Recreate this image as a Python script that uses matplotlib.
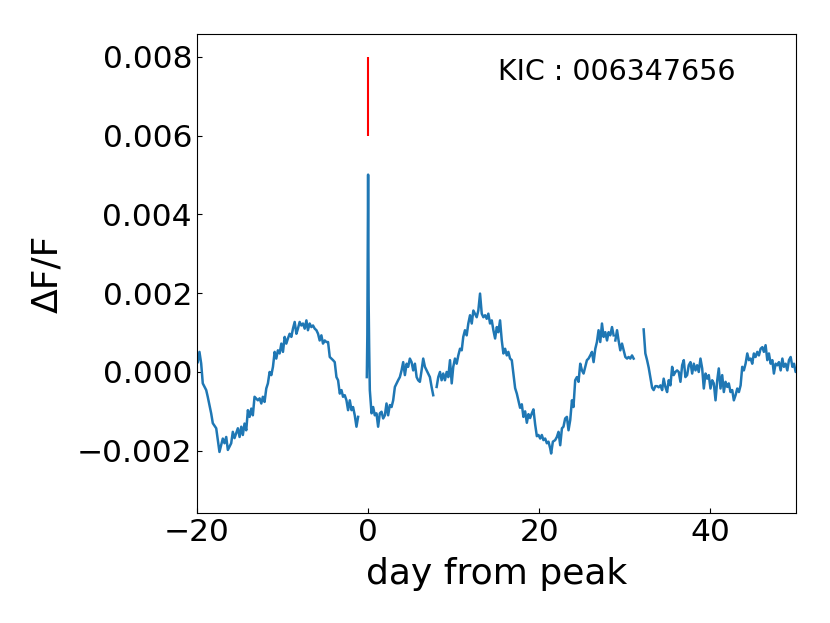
import numpy as np
import matplotlib
matplotlib.use("Agg")
import matplotlib.pyplot as plt

nan = float("nan")

# days from peak and relative flux (in units of 1e-3), NaN marks data gaps
days = [
    -19.91, -19.71, -19.51, -19.32, -18.92, -18.74, -18.34, -18.15, -17.75, -17.37,
    -16.98, -16.78, -16.58, -16.39, -16.00, -15.81, -15.61, -15.22, -15.02, -14.82,
    -14.64, -14.44, -14.24, -14.05, -13.85, -13.65, -13.47, -13.27, -12.88, -12.68,
    -12.48, -12.30, -12.10, -11.90, -11.71, -11.51, -11.31, -11.12, -10.92, -10.73,
    -10.54, -10.34, -10.14, -9.95, -9.75, -9.56, -9.37, -9.17, -8.97, -8.78,
    -8.58, -8.38, -8.20, -8.00, -7.80, -7.61, -7.41, -7.21, -7.03, -6.83,
    -6.63, -6.44, -6.24, -6.04, -5.85, -5.66, -5.46, -5.27, -5.07, -4.87,
    -4.68, -4.48, -4.29, -4.10, -3.90, -3.70, -3.51, -3.31, -3.11, -2.93,
    -2.73, -2.53, -2.34, -2.14, -1.94, -1.76, -1.56, -1.36, -1.17, -0.70,
    -0.15, -0.09, 0.00, 0.06, 0.12, 0.20, 0.40,
    0.59, 0.78, 0.98, 1.17, 1.37, 1.57, 1.76, 1.96, 2.15, 2.34,
    2.54, 2.74, 2.93, 3.13, 3.33, 3.51, 3.71, 3.91, 4.10, 4.30,
    4.50, 4.68, 4.88, 5.08, 5.27, 5.47, 5.67, 5.85, 6.05, 6.25,
    6.44, 6.64, 6.84, 7.03, 7.22, 7.42, 7.61, 7.80,
    8.01, 8.20, 8.40, 8.59, 8.78, 8.98, 9.18, 9.37, 9.57, 9.77,
    9.95, 10.15, 10.35, 10.54, 10.74, 10.94, 11.12, 11.32, 11.52, 11.71,
    11.91, 12.11, 12.30, 12.49, 12.69, 12.88, 13.08, 13.28, 13.47, 13.67,
    13.86, 14.05, 14.25, 14.45, 14.64, 14.84, 15.04, 15.22, 15.42, 15.62,
    15.81, 16.01, 16.21, 16.39, 16.59, 16.79, 16.98, 17.18, 17.38, 17.56,
    17.76, 17.96, 18.15, 18.35, 18.55, 18.74, 18.93, 19.13, 19.32, 19.52,
    19.72, 19.91, 20.11, 20.30, 20.49, 20.69, 20.89, 21.08, 21.28, 21.39,
    21.59, 21.86, 22.06, 22.25, 22.45, 22.65, 22.83, 23.03, 23.23, 23.42,
    23.62, 23.82, 24.00, 24.20, 24.40, 24.59, 24.79, 24.99, 25.18, 25.37,
    25.57, 25.76, 25.96, 26.16, 26.35, 26.55, 26.74, 26.93, 27.13, 27.33,
    27.52, 27.72, 27.92, 28.10, 28.30, 28.50, 28.69, 28.79,
    28.89, 29.09, 29.27, 29.47, 29.67, 29.86, 30.06, 30.26, 30.44, 30.64,
    30.84, 31.03, 31.60,
    32.20, 32.40, 32.60, 32.79, 32.99, 33.19, 33.37, 33.57, 33.77, 33.96,
    34.16, 34.36, 34.54, 34.74, 34.94, 35.13, 35.33, 35.53, 35.71, 35.91,
    36.11, 36.30, 36.50, 36.70, 36.89, 37.08, 37.28, 37.47, 37.67, 37.87,
    38.06, 38.26, 38.45, 38.64, 38.84, 39.04, 39.23, 39.43, 39.63, 39.81,
    40.01, 40.21, 40.40, 40.60, 40.80, 40.98, 41.18, 41.38, 41.57, 41.77,
    41.97, 42.15, 42.35, 42.55, 42.74, 42.94, 43.14, 43.33, 43.53, 43.72,
    43.91, 44.11, 44.31, 44.50, 44.70, 44.89, 45.08, 45.28, 45.48, 45.67,
    45.87, 46.07, 46.25, 46.45, 46.65, 46.84, 47.04, 47.24, 47.42, 47.62,
    47.82, 48.01, 48.21, 48.41, 48.59, 48.79, 48.99, 49.18, 49.38, 49.58,
    49.77, 49.96, 50.20,
]

flux_ppt = [
    0.25, 0.51, 0.22, -0.29, -0.46, -0.63, -1.05, -1.30, -1.43, -2.03,
    -1.69, -1.81, -1.65, -1.98, -1.81, -1.52, -1.68, -1.43, -1.65, -1.39,
    -1.60, -1.31, -1.48, -0.97, -1.14, -0.93, -1.10, -0.63, -0.72, -0.67,
    -0.80, -0.63, -0.76, -0.42, -0.29, 0.00, -0.08, 0.13, 0.51, 0.34,
    0.55, 0.47, 0.72, 0.51, 0.89, 0.72, 0.85, 0.97, 0.89, 1.10,
    1.27, 0.97, 1.10, 1.27, 1.18, 1.23, 1.10, 1.31, 1.06, 1.23,
    1.14, 1.18, 1.10, 1.06, 0.97, 0.80, 0.93, 0.72, 0.80, 0.76,
    0.76, 0.38, 0.34, 0.30, 0.25, -0.13, -0.21, -0.55, -0.46, -0.63,
    -0.59, -0.72, -0.97, -0.72, -0.97, -0.89, -1.10, -1.39, -1.14, nan,
    -0.13, 0.93, 5.01, 1.82, 0.68, -0.46, -1.05,
    -0.89, -1.10, -1.05, -1.39, -1.05, -1.01, -1.18, -1.10, -0.80, -1.10,
    -0.84, -0.89, -0.72, -0.38, -0.29, -0.21, -0.13, 0.04, 0.25, -0.08,
    0.21, 0.13, 0.34, 0.25, 0.04, 0.21, -0.13, -0.21, -0.25, 0.04,
    0.34, 0.13, 0.04, -0.04, -0.13, -0.38, -0.59, nan,
    -0.38, -0.13, 0.00, -0.21, -0.04, -0.21, 0.00, -0.13, 0.30, -0.29,
    0.13, 0.34, 0.21, 0.42, 0.59, 0.55, 0.89, 1.06, 0.93, 1.23,
    1.44, 1.23, 1.56, 1.48, 1.39, 1.56, 1.99, 1.48, 1.39, 1.44,
    1.35, 1.48, 1.23, 1.31, 1.06, 0.85, 1.14, 1.01, 1.31, 0.80,
    0.47, 0.59, 0.42, 0.51, 0.34, 0.30, -0.04, -0.41, -0.55, -0.72,
    -0.91, -0.82, -1.14, -1.00, -1.29, -1.07, -1.17, -1.05, -0.95, -1.33,
    -1.63, -1.60, -1.69, -1.60, -1.73, -1.69, -1.81, -1.77, -1.94, -2.07,
    -1.77, -1.73, -1.65, -1.52, -1.86, -1.43, -1.39, -1.18, -1.14, -1.48,
    -1.22, -0.72, -0.89, -0.21, -0.13, -0.25, 0.21, 0.04, -0.04, 0.13,
    0.30, 0.34, 0.42, 0.51, 0.25, 0.59, 0.76, 1.06, 0.76, 1.23,
    0.89, 1.01, 0.80, 1.01, 0.93, 1.14, 0.93, nan,
    0.80, 1.06, 0.80, 0.55, 0.72, 0.55, 0.38, 0.34, 0.38, 0.34,
    0.42, 0.34, nan,
    1.08, 0.47, 0.30, 0.11, -0.15, -0.40, -0.46, -0.36, -0.36, -0.39,
    -0.34, -0.46, -0.17, -0.38, -0.51, -0.21, -0.34, 0.13, -0.08, 0.00,
    0.04, 0.00, -0.25, 0.17, 0.30, -0.13, -0.08, 0.17, 0.25, -0.04,
    0.21, 0.04, 0.17, 0.00, 0.34, 0.09, -0.42, -0.04, -0.17, -0.08,
    -0.42, -0.21, -0.29, -0.72, -0.21, 0.09, -0.42, -0.08, -0.51, -0.25,
    -0.38, -0.29, -0.51, -0.46, -0.72, -0.59, -0.42, -0.51, -0.34, 0.13,
    0.04, 0.21, 0.47, 0.30, 0.34, 0.21, 0.47, 0.38, 0.51, 0.42,
    0.59, 0.63, 0.51, 0.68, 0.30, 0.47, 0.21, 0.30, -0.04, 0.21,
    0.17, 0.25, 0.04, 0.34, 0.13, 0.21, 0.04, 0.30, 0.38, 0.13,
    0.21, 0.00, 0.04,
]

peak_day = 0.0
marker_range = [0.006, 0.008]
label_text = "KIC : 006347656"
yticks = [-0.002, 0.000, 0.002, 0.004, 0.006, 0.008]
xticks = [-20, 0, 20, 40]

fig = plt.figure(figsize=(8.30, 6.23), dpi=100)
ax = fig.add_axes([0.2373, 0.1766, 0.9590 - 0.2373, 0.9454 - 0.1766])

ax.plot(np.array(days), np.array(flux_ppt) * 1e-3, color="#1f77b4", lw=1.8)
ax.vlines(peak_day, marker_range[0], marker_range[1], color="red", lw=1.5)

ax.set_xlim(-20, 50)
ax.set_ylim(-0.00358, 0.00858)
ax.set_xticks(xticks)
ax.set_yticks(yticks)
ax.tick_params(direction="in", labelsize=22.5)
ax.set_xlabel("day from peak", fontsize=26, labelpad=7)
ax.set_ylabel("ΔF/F", fontsize=26, labelpad=9)
ax.text(0.502, 0.92, label_text, transform=ax.transAxes, fontsize=20.5,
        ha="left", va="center")

fig.savefig("out.png", dpi=100)
